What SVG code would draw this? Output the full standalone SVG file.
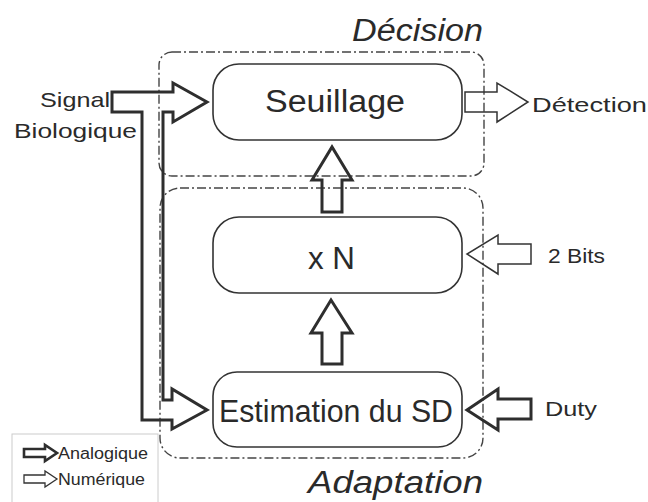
<svg xmlns="http://www.w3.org/2000/svg" width="648" height="502" viewBox="0 0 648 502">
<style>
.bg{fill:#fff}
.node{fill:#fff;stroke:#333;stroke-width:1.6}
.grp{fill:none;stroke:#444;stroke-width:1.4;stroke-dasharray:9,3,2,3}
.ana{fill:none;stroke:#2e2e2e;stroke-width:3;stroke-linejoin:miter}
.num{fill:none;stroke:#333;stroke-width:1.5;stroke-linejoin:miter}
.t{font-family:"Liberation Sans",Arial,sans-serif;fill:#2a2a2a}
.big{font-size:31px}
.mid{font-size:21px}
.sm{font-size:16px}
.it{font-style:italic;font-size:31px}
</style>
<rect class="bg" width="648" height="502"/>
<g id="grp-decision">
<rect class="grp" x="159" y="52" width="325" height="124" rx="13"/>
<text class="t it" x="352" y="41" textLength="131" lengthAdjust="spacingAndGlyphs">Décision</text>
</g>
<g id="grp-adaptation">
<rect class="grp" x="160" y="188" width="323" height="270" rx="20"/>
<text class="t it" x="308" y="493" textLength="175" lengthAdjust="spacingAndGlyphs">Adaptation</text>
</g>
<g id="seuillage">
<rect class="node" x="213" y="64" width="249" height="76" rx="26"/>
<text class="t big" x="265" y="112" textLength="140" lengthAdjust="spacingAndGlyphs">Seuillage</text>
</g>
<g id="xn">
<rect class="node" x="213" y="217" width="249" height="76" rx="26"/>
<text class="t big" x="308" y="269" textLength="47" lengthAdjust="spacingAndGlyphs">x N</text>
</g>
<g id="estimation">
<rect class="node" x="213" y="372" width="249" height="75" rx="24"/>
<text class="t big" x="219" y="422" textLength="234" lengthAdjust="spacingAndGlyphs">Estimation du SD</text>
</g>
<g id="connectors">
<path class="ana" d="M112,92 L173,92 L173,83 L207,102 L173,122 L173,112 L163,112 L163,400 L172,400 L172,389 L207,410 L172,429 L172,420 L142,420 L142,112 L112,112 Z"/>
<path class="num" d="M465,92 L497,92 L497,83 L528,102 L497,122 L497,112 L465,112 Z"/>
<path class="ana" d="M322,212 L322,180 L312,180 L332,147 L352,180 L342,180 L342,212 Z"/>
<path class="ana" d="M322,364 L322,333 L311,333 L331,300 L352,333 L342,333 L342,364 Z"/>
<path class="num" d="M531,244 L498,244 L498,235 L467,254 L498,274 L498,264 L531,264 Z"/>
<path class="ana" d="M531,399 L498,399 L498,389 L467,410 L498,430 L498,419 L531,419 Z"/>
</g>
<g id="labels">
<text class="t mid" x="110" y="107" text-anchor="end" textLength="70" lengthAdjust="spacingAndGlyphs">Signal</text>
<text class="t mid" x="14" y="138" textLength="123" lengthAdjust="spacingAndGlyphs">Biologique</text>
<text class="t mid" x="532" y="112" textLength="115" lengthAdjust="spacingAndGlyphs">Détection</text>
<text class="t mid" x="548" y="263" textLength="57" lengthAdjust="spacingAndGlyphs">2 Bits</text>
<text class="t mid" x="545" y="416" textLength="52" lengthAdjust="spacingAndGlyphs">Duty</text>
</g>
<g id="legend">
<rect x="12" y="434" width="146" height="72" fill="#fff" stroke="#ccc" stroke-width="1"/>
<path class="ana" style="stroke-width:2.6" d="M24,449 L45,449 L45,445 L57,453 L45,461 L45,457 L24,457 Z"/>
<text class="t sm" x="58" y="459" textLength="90" lengthAdjust="spacingAndGlyphs">Analogique</text>
<path class="num" style="stroke-width:1.3" d="M24,475 L45,475 L45,471 L57,479 L45,487 L45,483 L24,483 Z"/>
<text class="t sm" x="58" y="485" textLength="87" lengthAdjust="spacingAndGlyphs">Numérique</text>
</g>
</svg>
